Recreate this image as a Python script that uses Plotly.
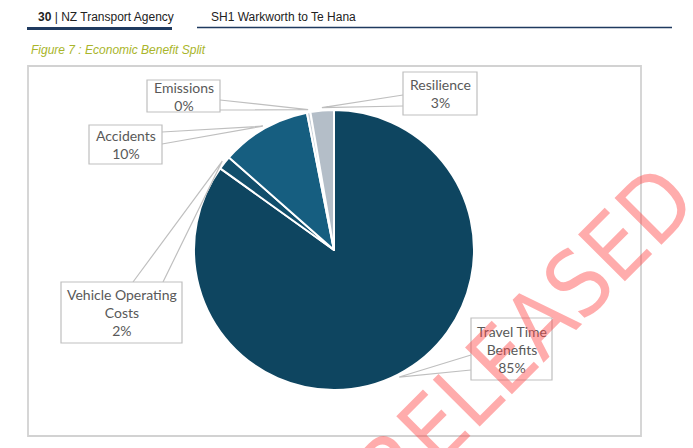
import numpy as np
import plotly.graph_objects as go

W, H = 693, 448

# slice data, clockwise from 12 o'clock
labels = ['Travel Time Benefits', 'Vehicle Operating Costs', 'Accidents', 'Emissions', 'Resilience']
box_names = ['Travel Time<br>Benefits', 'Vehicle Operating<br>Costs', 'Accidents', 'Emissions', 'Resilience']
values = [84.9, 1.6, 10.4, 0.4, 2.7]
colors = ['#0E4560', '#114E6B', '#165E80', '#C9D1D9', '#B4BEC8']

header_left = '<b>30</b> | NZ Transport Agency'
header_right = 'SH1 Warkworth to Te Hana'
caption = 'Figure 7 : Economic Benefit Split'


def px(x):
    return x / W


def py(y):
    return 1 - y / H


# pie geometry (pixels)
cx, cy, r = 334, 250, 140

# callout boxes: (left, top, right, bottom) and the two points where the pointer leaves the box
boxes = [
    ((471, 318, 552, 380), [(471, 355), (471, 370)]),
    ((61, 282, 182, 343), [(133, 282), (163, 282)]),
    ((89, 125, 162, 164), [(162, 132), (162, 144)]),
    ((147, 80, 220, 112), [(220, 100), (220, 110)]),
    ((403, 72, 477, 115), [(403, 95), (403, 106)]),
]

fig = go.Figure()
fig.add_trace(go.Pie(values=values, labels=labels, sort=False, direction='clockwise', rotation=0,
                     marker=dict(colors=colors, line=dict(color='white', width=2)),
                     textinfo='none', showlegend=False,
                     domain=dict(x=[px(cx - r), px(cx + r)], y=[py(cy + r), py(cy - r)])))

shapes = []
annotations = []

# outer chart border
shapes.append(dict(type='rect', xref='paper', yref='paper', x0=px(28), x1=px(641), y0=py(436), y1=py(66),
                   line=dict(color='#D2D2D2', width=1.8), layer='below'))

# header underlines
shapes.append(dict(type='line', xref='paper', yref='paper', x0=px(27), x1=px(172), y0=py(28.5), y1=py(28.5),
                   line=dict(color='#1F3A5F', width=3)))
shapes.append(dict(type='line', xref='paper', yref='paper', x0=px(197), x1=px(672), y0=py(27.5), y1=py(27.5),
                   line=dict(color='#1F3A5F', width=1.3)))

annotations.append(dict(text=header_left, x=px(36), y=py(17), xref='paper', yref='paper', xanchor='left',
                        yanchor='middle', showarrow=False, font=dict(family='Liberation Sans', size=12, color='#222222')))
annotations.append(dict(text=header_right, x=px(209), y=py(17), xref='paper', yref='paper', xanchor='left',
                        yanchor='middle', showarrow=False, font=dict(family='Liberation Sans', size=12, color='#222222')))
annotations.append(dict(text='<i>' + caption + '</i>', x=px(29), y=py(50), xref='paper', yref='paper',
                        xanchor='left', yanchor='middle', showarrow=False,
                        font=dict(family='Liberation Sans', size=12, color='#A9B52A')))

# callouts
total = sum(values)
cum = np.cumsum([0] + values[:-1])
for i, v in enumerate(values):
    mid = np.radians((cum[i] + v / 2) / total * 360)
    tx = cx + r * 1.02 * np.sin(mid)
    ty = cy - r * 1.02 * np.cos(mid)
    (l, t, rr, b), pts = boxes[i]
    (ax1, ay1), (ax2, ay2) = pts
    path = (f'M {px(ax1)} {py(ay1)} L {px(tx)} {py(ty)} L {px(ax2)} {py(ay2)}')
    shapes.append(dict(type='path', xref='paper', yref='paper', path=path,
                       line=dict(color='#BFBFBF', width=1.2)))
    shapes.append(dict(type='rect', xref='paper', yref='paper', x0=px(l), x1=px(rr), y0=py(b), y1=py(t),
                       fillcolor='white', line=dict(color='#BFBFBF', width=1.2)))
    pct = round(v / total * 100)
    annotations.append(dict(text=f'{box_names[i]}<br>{pct}%', x=px((l + rr) / 2), y=py((t + b) / 2),
                            xref='paper', yref='paper', xanchor='center', yanchor='middle', showarrow=False,
                            align='center', font=dict(family='Lato', size=14, color='#595959')))

# watermark
annotations.append(dict(text='RELEASED', x=px(526), y=py(335), xref='paper', yref='paper', textangle=-45,
                        xanchor='center', yanchor='middle', showarrow=False,
                        font=dict(family='Liberation Sans Narrow, DejaVu Sans Condensed, Liberation Sans',
                                  size=91, color='rgba(255,70,70,0.45)')))

fig.update_layout(width=W, height=H, margin=dict(l=0, r=0, t=0, b=0),
                  paper_bgcolor='white', plot_bgcolor='white',
                  shapes=shapes, annotations=annotations)

fig.write_html("out.html", config={'displayModeBar': False},
               post_script="document.body.style.margin='0';")
